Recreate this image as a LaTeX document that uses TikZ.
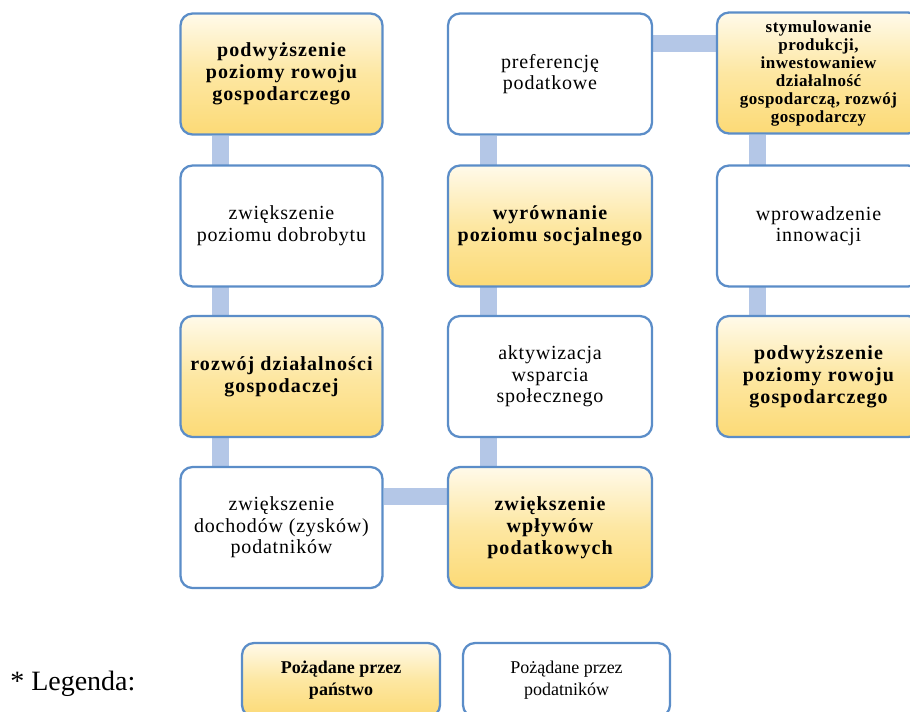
\documentclass[tikz,border=0pt]{standalone}
\usepackage{fontspec}
\setmainfont{Liberation Serif}
\newfontfamily\regfont[LetterSpace=4]{Liberation Serif}
\newfontfamily\bldfont[LetterSpace=5.5]{Liberation Serif}
\newfontfamily\smbldfont[LetterSpace=3]{Liberation Serif}
\usetikzlibrary{calc,backgrounds}
\definecolor{edgeblue}{HTML}{5B8DC8}
\definecolor{barblue}{HTML}{B4C7E7}
\definecolor{goldtop}{HTML}{FFFAEA}
\definecolor{goldmid}{HTML}{FDE7A2}
\definecolor{goldbot}{HTML}{FCDA76}
\begin{document}
\begin{tikzpicture}[x=0.75pt,y=-0.75pt,
  plainbox/.style={draw=edgeblue, line width=1.7pt, rounded corners=9pt,
    minimum width=151.5pt, minimum height=90.75pt, inner sep=0pt, align=center, fill=white},
  goldbox/.style={plainbox, top color=goldtop, bottom color=goldbot, middle color=goldmid},
  reg/.style={font=\fontsize{15pt}{16.2pt}\regfont},
  bld/.style={font=\fontsize{15pt}{16.5pt}\bldfont\bfseries},
  smbld/.style={font=\fontsize{12.75pt}{13.5pt}\smbldfont\bfseries},
  bar/.style={draw=barblue, line width=12.75pt},
]
\useasboundingbox (0,0) rectangle (910,711);
\clip (0,0) rectangle (910,711);

% column 1
\node[goldbox, bld] (b11) at (281.5,74) {podwyższenie\\poziomy rowoju\\gospodarczego};
\node[plainbox, reg] (b12) at (281.5,226) {zwiększenie\\poziomu dobrobytu};
\node[goldbox, bld] (b13) at (281.5,376.5) {rozwój działalności\\gospodaczej};
\node[plainbox, reg] (b14) at (281.5,527.5) {zwiększenie\\dochodów (zysków)\\podatników};
% column 2
\node[plainbox, reg, minimum width=153pt] (b21) at (550,74) {preferencję\\podatkowe};
\node[goldbox, bld, minimum width=153pt] (b22) at (550,226) {wyrównanie\\poziomu socjalnego};
\node[plainbox, reg, minimum width=153pt] (b23) at (550,376.5) {aktywizacja\\wsparcia\\społecznego};
\node[goldbox, bld, minimum width=153pt] (b24) at (550,527.5) {zwiększenie\\wpływów\\podatkowych};
% column 3
\node[goldbox, smbld, minimum width=152.25pt] (b31) at (818.5,73) {stymulowanie\\produkcji,\\inwestowaniew\\działalność\\gospodarczą, rozwój\\gospodarczy};
\node[plainbox, reg, minimum width=152.25pt] (b32) at (818.5,226) {wprowadzenie\\innowacji};
\node[goldbox, bld, minimum width=152.25pt] (b33) at (818.5,376.5) {podwyższenie\\poziomy rowoju\\gospodarczego};

% connectors
\begin{scope}[on background layer]
\draw[bar] ($(b11.south west)+(41,0)$) -- ($(b14.north west)+(41,0)$);
\draw[bar] ($(b14.east)+(0,-31.5)$) -- ($(b24.west)+(0,-31.5)$);
\draw[bar] ($(b24.north west)+(42,0)$) -- ($(b21.south west)+(42,0)$);
\draw[bar] ($(b21.east)+(0,-31)$) -- ($(b31.west)+(0,-30)$);
\draw[bar] ($(b31.south west)+(42,0)$) -- ($(b33.north west)+(42,0)$);
\end{scope}

% legend
\node[anchor=base west, font=\fontsize{21pt}{24pt}\selectfont, inner sep=0pt] (leg) at (10,690) {* Legenda:};
\node[goldbox, minimum width=148.5pt, minimum height=55.5pt,
  font=\fontsize{13.5pt}{16.5pt}\selectfont\bfseries] (lg1) at (341,680) {Pożądane przez\\państwo};
\node[plainbox, minimum width=155.25pt, minimum height=55.5pt,
  font=\fontsize{13.5pt}{16.5pt}\selectfont] (lg2) at (566.5,680) {Pożądane przez\\podatników};
\end{tikzpicture}
\end{document}
